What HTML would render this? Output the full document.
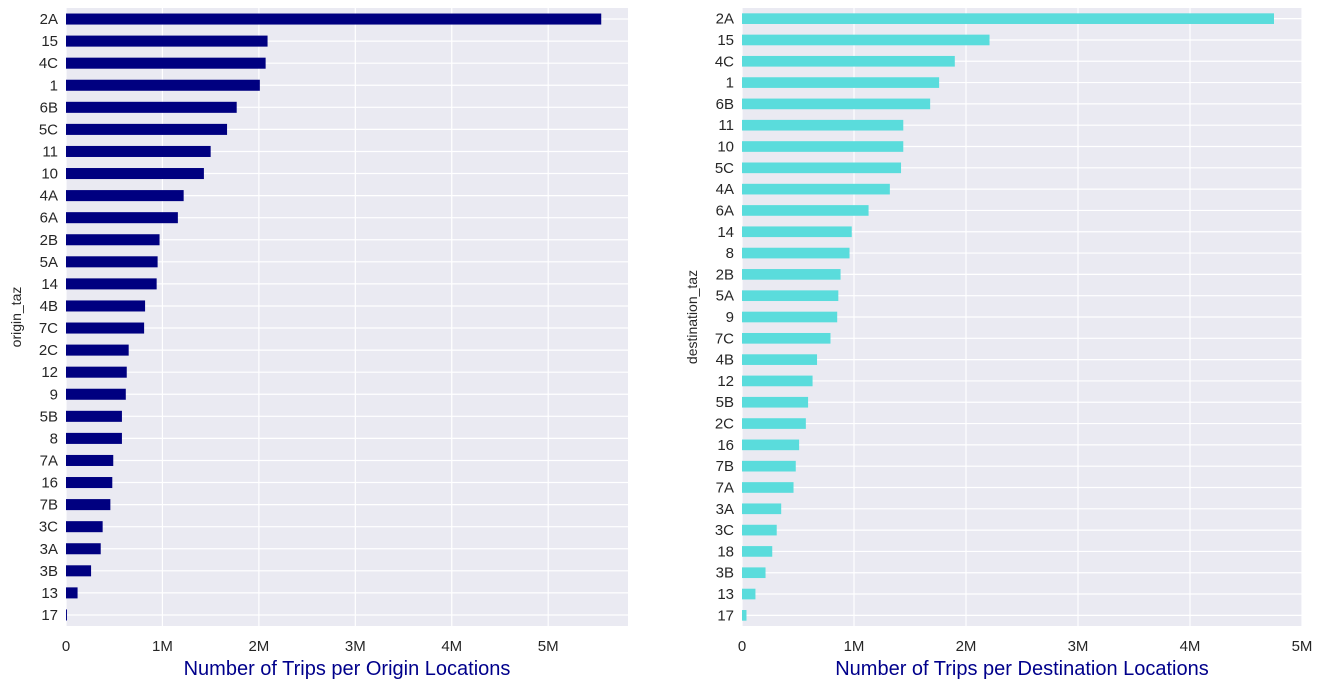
<!DOCTYPE html>
<html><head><meta charset="utf-8"><style>
body{margin:0;background:#fff;font-family:"Liberation Sans",sans-serif}
svg{display:block}
</style></head><body>
<svg id="c" width="1324" height="689"></svg>
<script>
const leftCats=["2A","15","4C","1","6B","5C","11","10","4A","6A","2B","5A","14","4B","7C","2C","12","9","5B","8","7A","16","7B","3C","3A","3B","13","17"];
const leftVals=[5.55,2.09,2.07,2.01,1.77,1.67,1.50,1.43,1.22,1.16,0.97,0.95,0.94,0.82,0.81,0.65,0.63,0.62,0.58,0.58,0.49,0.48,0.46,0.38,0.36,0.26,0.12,0.01];
const rightCats=["2A","15","4C","1","6B","11","10","5C","4A","6A","14","8","2B","5A","9","7C","4B","12","5B","2C","16","7B","7A","3A","3C","18","3B","13","17"];
const rightVals=[4.75,2.21,1.90,1.76,1.68,1.44,1.44,1.42,1.32,1.13,0.98,0.96,0.88,0.86,0.85,0.79,0.67,0.63,0.59,0.57,0.51,0.48,0.46,0.35,0.31,0.27,0.21,0.12,0.04];
const tickVals=[0,1,2,3,4,5];
const tickLabels=["0","1M","2M","3M","4M","5M"];
const NS="http://www.w3.org/2000/svg";
const svg=document.getElementById('c');
function mk(t,a,p){const e=document.createElementNS(NS,t);for(const k in a)e.setAttribute(k,a[k]);(p||svg).appendChild(e);return e;}
function panel(cats,vals,x0,x1,xmax,color,ylab,xlab,pre){
  const y0=8,y1=626;
  const g=mk('g',{});
  
  
  const bg=mk('rect',{x:x0,y:y0,width:x1-x0,height:y1-y0,fill:'#eaeaf2'},g);
  
  
  const sx=v=>x0+v/xmax*(x1-x0);
  const n=cats.length,step=(y1-y0)/n;
  const sy=i=>y0+step*(i+0.5);
  tickVals.forEach((t,i)=>{
    if(t>xmax)return;
    mk('line',{x1:sx(t),x2:sx(t),y1:y0,y2:y1,stroke:'#fff','stroke-width':1.2},g);
    const tl=mk('text',{x:sx(t),y:651,'text-anchor':'middle','font-size':15,fill:'#262626'},g);
    tl.textContent=tickLabels[i];
    
    
  });
  cats.forEach((c,i)=>{
    mk('line',{x1:x0,x2:x1,y1:sy(i),y2:sy(i),stroke:'#fff','stroke-width':1.2},g);
  });
  cats.forEach((c,i)=>{
    const b=mk('rect',{x:x0,y:sy(i)-step*0.25,width:sx(vals[i])-x0,height:step*0.5,fill:color},g);
    
    
    const t=mk('text',{x:x0-8,y:sy(i)+5,'text-anchor':'end','font-size':15,fill:'#262626'},g);
    t.textContent=c;
    
    
  });
  const yl=mk('text',{x:0,y:0,transform:`translate(${x0-45},${(y0+y1)/2}) rotate(-90)`,'text-anchor':'middle','font-size':14,fill:'#262626'},g);
  yl.textContent=ylab;
  
  
  const xl=mk('text',{x:(x0+x1)/2,y:675,'text-anchor':'middle','font-size':20,fill:'#00008b'},g);
  xl.textContent=xlab;
  
  
}
panel(leftCats,leftVals,66,628,Math.max(...leftVals)*1.05,'#000080','origin_taz','Number of Trips per Origin Locations','origin');
panel(rightCats,rightVals,742,1302,5,'#5adcdc','destination_taz','Number of Trips per Destination Locations','destination');
</script>
</body></html>
